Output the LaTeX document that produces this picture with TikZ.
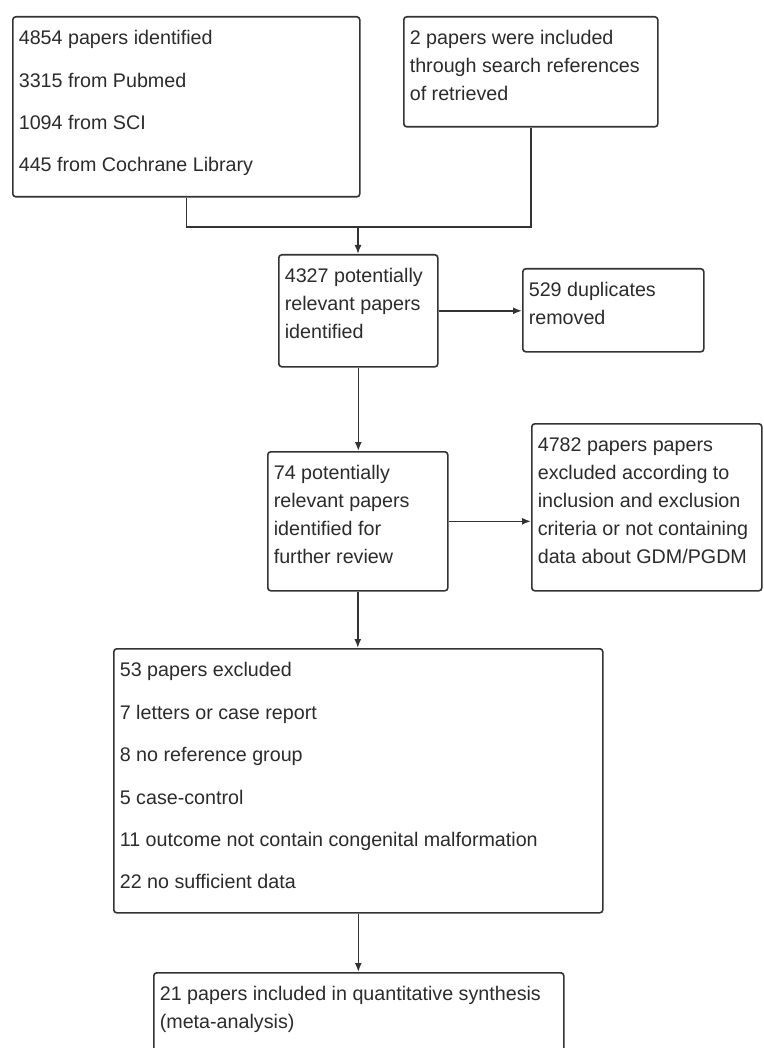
\documentclass[tikz,border=0pt]{standalone}
\usepackage{fontspec}
\setmainfont{Liberation Sans}
\usetikzlibrary{arrows.meta}
\definecolor{linegray}{HTML}{333333}
\definecolor{textgray}{HTML}{2B2B2B}
% text block of a box: width, height, lines
\newcommand{\boxtext}[3]{\parbox[c][#2][t]{#1}{\rule{0pt}{28pt}#3}}
\begin{document}
\begin{tikzpicture}[x=1pt, y=-1pt,
    box/.style={draw=linegray, line width=1.6pt, rounded corners=3pt, inner xsep=6pt, inner ysep=0pt,
      anchor=north west, text=textgray, font=\fontsize{19.7}{28}\selectfont},
    listbox/.style={box, font=\fontsize{19.7}{42.4}\selectfont},
    link/.style={draw=linegray, line width=1.6pt},
    arr/.style={link, -{Latex[length=9pt,width=7pt]}}]
  \useasboundingbox (0,0) rectangle (763,1048);
  \node[listbox] (search) at (12,16) {\boxtext{335pt}{180pt}{4854 papers identified\\3315 from Pubmed\\1094 from SCI\\445 from Cochrane Library}};
  \node[box] (refs) at (403,16) {\boxtext{242pt}{110pt}{2 papers were included\\through search references\\of retrieved}};
  \node[box] (relevant) at (278,254) {\boxtext{147pt}{112pt}{4327 potentially\\relevant papers\\identified}};
  \node[box] (dupl) at (522,268) {\boxtext{169pt}{83pt}{529 duplicates\\removed}};
  \node[box] (review) at (267,451) {\boxtext{168pt}{139pt}{74 potentially\\relevant papers\\identified for\\further review}};
  \node[box] (excl) at (531,423) {\boxtext{218pt}{167pt}{4782 papers papers\\excluded according to\\inclusion and exclusion\\criteria or not containing\\data about GDM/PGDM}};
  \node[listbox] (excluded) at (113,648) {\boxtext{477pt}{264pt}{53 papers excluded\\7 letters or case report\\8 no reference group\\5 case-control\\11 outcome not contain congenital malformation\\22 no sufficient data}};
  \node[box] (included) at (153,972) {\boxtext{398pt}{85pt}{21 papers included in quantitative synthesis\\(meta-analysis)}};
  % connectors
  \coordinate (merge) at (358,227);
  \draw[link] (search.south) |- (merge) -| (refs.south);
  \draw[arr] (merge) -- (merge |- relevant.north);
  \draw[arr] (relevant.east) -- (relevant.east -| dupl.west);
  \draw[arr] (relevant.south) -- (relevant.south |- review.north);
  \draw[arr] (review.east) -- (review.east -| excl.west);
  \draw[arr] (review.south) -- (review.south |- excluded.north);
  \draw[arr] (excluded.south) -- (excluded.south |- included.north);
\end{tikzpicture}
\end{document}
